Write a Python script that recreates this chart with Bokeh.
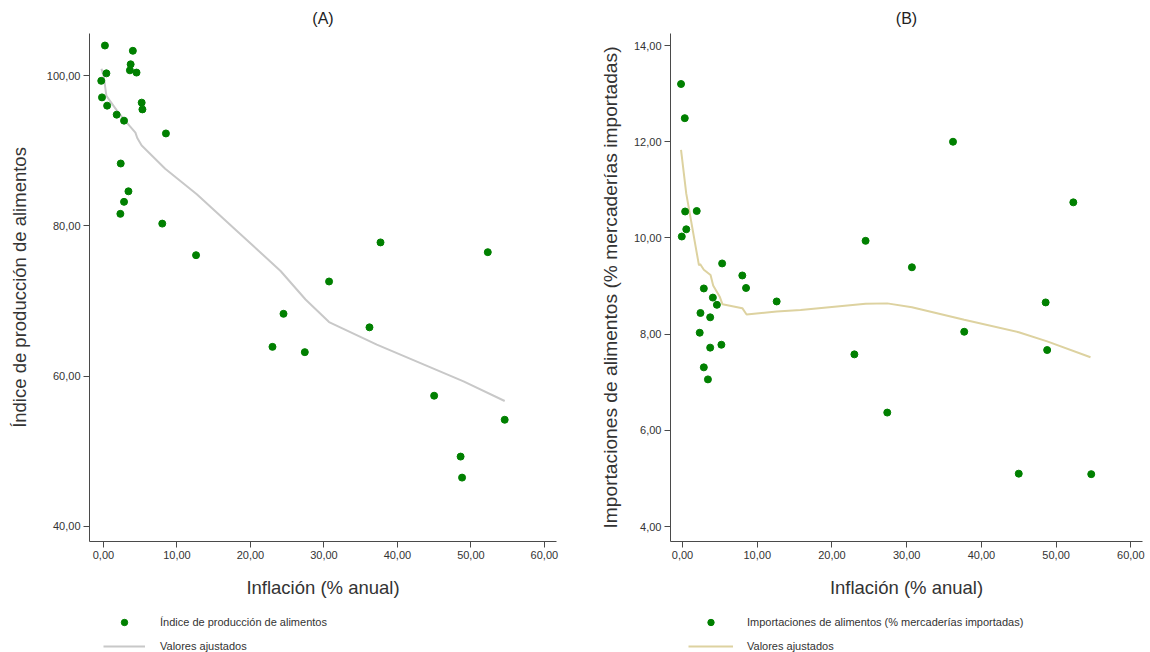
from bokeh.plotting import figure
from bokeh.layouts import row, column
from bokeh.models import Range1d, FixedTicker, CustomJSTickFormatter, Legend, LegendItem
from bokeh.embed import file_html
from bokeh.resources import INLINE

# ---------------- data ----------------
# Panel A: food production index vs inflation
infl_a = [-0.3, -0.2, 0.2, 0.4, 0.5, 1.8, 2.3, 2.35, 2.8, 2.8, 3.4, 3.6, 3.7, 4.0, 4.5,
          5.2, 5.3, 8.0, 8.5, 12.6, 23.0, 24.5, 27.4, 30.7, 36.2, 37.7, 45.0, 48.6,
          48.8, 52.3, 54.6]
food_index = [99.3, 97.1, 104.0, 100.3, 96.0, 94.8, 81.6, 88.3, 94.0, 83.2, 84.6, 100.7,
              101.5, 103.3, 100.4, 96.4, 95.5, 80.3, 92.3, 76.1, 63.9, 68.3, 63.2, 72.6,
              66.5, 77.8, 57.4, 49.3, 46.5, 76.5, 54.2]
fit_a_x = [-0.27, 0.05, 0.4, 1.86, 2.76, 4.35, 4.6, 5.2, 8.4, 12.7, 18.2, 24.1, 27.5,
           30.7, 37.2, 49.0, 54.6]
fit_a_y = [100.9, 99.8, 97.3, 95.3, 94.2, 92.4, 91.7, 90.7, 87.6, 84.2, 79.3, 74.0, 70.2,
           67.2, 64.2, 59.3, 56.7]

# Panel B: food imports vs inflation
infl_b = [-0.2, 0.3, -0.1, 0.35, 0.5, 1.9, 2.3, 2.4, 2.85, 2.85, 3.4, 3.7, 3.7, 4.06, 4.6,
          5.2, 5.3, 8.0, 8.5, 12.6, 23.0, 24.5, 27.4, 30.7, 36.2, 37.7, 45.0, 48.6,
          48.8, 52.3, 54.7]
food_imports = [13.2, 12.49, 10.03, 10.55, 10.18, 10.56, 8.03, 8.44, 8.95, 7.31, 7.06,
                8.35, 7.72, 8.76, 8.61, 7.78, 9.47, 9.22, 8.96, 8.68, 7.58, 9.94, 6.37,
                9.39, 12.0, 8.05, 5.10, 8.66, 7.67, 10.74, 5.09]
fit_b_x = [-0.2, 0.5, 2.2, 2.35, 2.85, 3.75, 4.1, 5.0, 5.35, 8.0, 8.57, 12.6, 15.8, 24.5,
           27.4, 30.7, 37.7, 45.0, 48.8, 54.6]
fit_b_y = [11.83, 10.92, 9.43, 9.46, 9.34, 9.23, 9.01, 8.77, 8.62, 8.54, 8.41, 8.47, 8.50,
           8.63, 8.64, 8.56, 8.30, 8.04, 7.85, 7.52]

x_ticks = [0, 10, 20, 30, 40, 50, 60]
y_ticks_a = [40, 60, 80, 100]
y_ticks_b = [4, 6, 8, 10, 12, 14]

title_a = "(A)"
title_b = "(B)"
x_label = "Inflación (% anual)"
y_label_a = "Índice de producción de alimentos"
y_label_b = "Importaciones de alimentos (% mercaderías importadas)"
legend_a = "Índice de producción de alimentos"
legend_b = "Importaciones de alimentos (% mercaderías importadas)"
fit_label = "Valores ajustados"

FONT = "Liberation Sans"
TXT = "#333333"
AX = "#4a4a4a"
GREEN = "#008000"
GRAY_FIT = "#c8c8c8"
BEIGE_FIT = "#ddd2a0"

fmt_code = "return tick.toFixed(2).replace('.', ',');"


def make_panel(title, xs, ys, fx, fy, xr, yr, yticks, ylabel, ylabel_size, fit_color,
               width, left, right, ylab_standoff):
    p = figure(width=width, height=600,
               x_range=Range1d(*xr), y_range=Range1d(*yr),
               output_backend="svg", toolbar_location=None,
               min_border_left=left, min_border_right=right,
               min_border_top=33, min_border_bottom=59)
    p.outline_line_color = None
    p.xgrid.grid_line_color = None
    p.ygrid.grid_line_color = None
    p.background_fill_color = "white"
    p.border_fill_color = "white"

    p.title.text = title
    p.title.align = "center"
    p.title.text_font = FONT
    p.title.text_font_size = "16px"
    p.title.text_font_style = "normal"
    p.title.text_color = "#222222"
    p.title.standoff = 13

    p.line(fx, fy, line_color=fit_color, line_width=2)
    p.scatter(xs, ys, size=7, fill_color=GREEN, line_color=GREEN)

    for ax in (p.xaxis[0], p.yaxis[0]):
        ax.axis_line_color = AX
        ax.major_tick_line_color = AX
        ax.major_tick_out = 6
        ax.major_tick_in = 0
        ax.minor_tick_out = 0
        ax.minor_tick_in = 0
        ax.major_label_text_font = FONT
        ax.major_label_text_font_size = "11px"
        ax.major_label_text_color = TXT
        ax.major_label_standoff = 3
        ax.axis_label_text_font = FONT
        ax.axis_label_text_font_style = "normal"
        ax.axis_label_text_color = TXT
        ax.formatter = CustomJSTickFormatter(code=fmt_code)

    p.xaxis.ticker = FixedTicker(ticks=x_ticks)
    p.yaxis.ticker = FixedTicker(ticks=yticks)
    p.xaxis.axis_label = x_label
    p.xaxis.axis_label_text_font_size = "18.5px"
    p.xaxis.axis_label_standoff = 15
    p.yaxis.axis_label = ylabel
    p.yaxis.axis_label_text_font_size = ylabel_size
    p.yaxis.axis_label_standoff = ylab_standoff
    return p


def make_legend_box(width, left, top, glyph_w, standoff, pts_label, fit_color,
                    px, py, lx, ly):
    # small strip under each panel that only holds the legend; its two renderers
    # re-use the first series values, which lie outside this strip's ranges (hidden)
    lf = figure(width=width, height=52, x_range=Range1d(1000, 1001), y_range=Range1d(1000, 1001),
                x_axis_type=None, y_axis_type=None,
                output_backend="svg", toolbar_location=None,
                min_border_left=left, min_border_right=0,
                min_border_top=top, min_border_bottom=0)
    lf.outline_line_color = None
    lf.background_fill_color = "white"
    lf.border_fill_color = "white"
    r_pts = lf.scatter(px[:1], py[:1], size=7, fill_color=GREEN, line_color=GREEN)
    r_fit = lf.line(lx[:2], ly[:2], line_color=fit_color, line_width=2)
    leg = Legend(items=[LegendItem(label=pts_label, renderers=[r_pts]),
                        LegendItem(label=fit_label, renderers=[r_fit])],
                 location="top_left", orientation="vertical",
                 border_line_color=None, background_fill_alpha=0,
                 glyph_width=glyph_w, glyph_height=16, label_height=16,
                 label_standoff=standoff, spacing=8, padding=0, margin=0,
                 label_text_font=FONT, label_text_font_size="11px",
                 label_text_color=TXT)
    lf.add_layout(leg)
    return lf


pa = make_panel(title_a, infl_a, food_index, fit_a_x, fit_a_y, (-1.9, 61.65), (38.0, 105.6),
                y_ticks_a, y_label_a, "18.5px", GRAY_FIT, 580, 89, 24, 14)
pb = make_panel(title_b, infl_b, food_imports, fit_b_x, fit_b_y, (-1.61, 61.56), (3.69, 14.25),
                y_ticks_b, y_label_b, "19.2px", BEIGE_FIT, 570, 90, 8, 10)

la = make_legend_box(580, 103, 12, 42, 15, legend_a, GRAY_FIT,
                     infl_a, food_index, fit_a_x, fit_a_y)
lb = make_legend_box(570, 108, 14, 45, 14, legend_b, BEIGE_FIT,
                     infl_b, food_imports, fit_b_x, fit_b_y)

layout = column(row(pa, pb, spacing=0), row(la, lb, spacing=0), spacing=0)
open("out.html", "w").write(file_html(layout, INLINE))
